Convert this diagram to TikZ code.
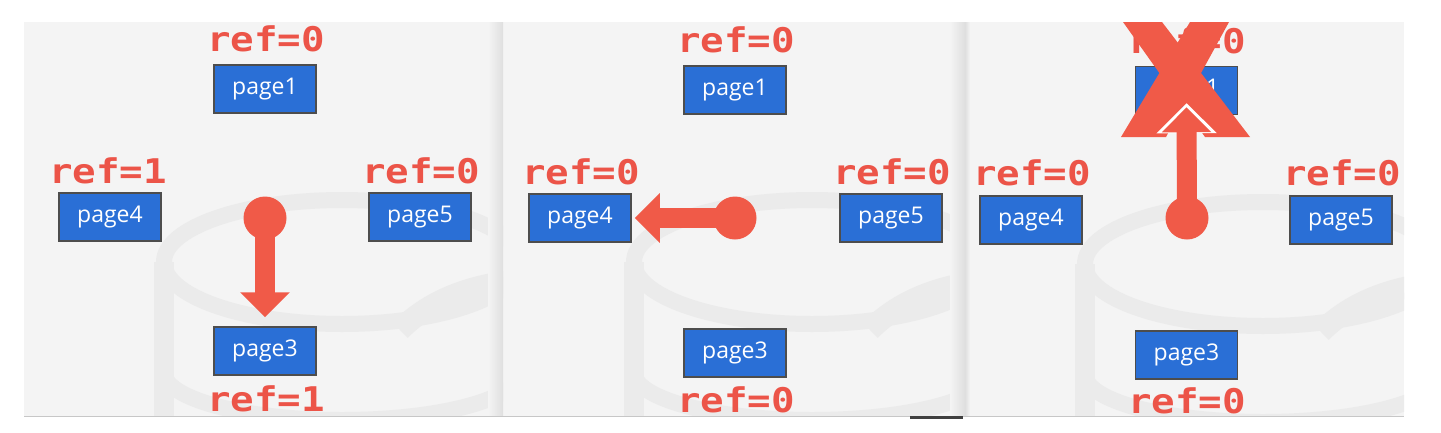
\documentclass[tikz,border=0pt]{standalone}
\usepackage{fontspec}
\setmainfont{Open Sans}
\newfontfamily\reffont{DejaVu Sans Mono}[FakeStretch=1.15]
\usetikzlibrary{arrows.meta}
\definecolor{refred}{HTML}{EC5448}
\definecolor{arrred}{HTML}{F05A48}
\definecolor{pageblue}{HTML}{2A6FD6}
\definecolor{pageedge}{HTML}{4D4D4D}
\definecolor{panelbg}{HTML}{F4F4F4}
\definecolor{wmgray}{HTML}{EBEBEB}
\definecolor{edgegray}{HTML}{DFDFDF}
\tikzset{
  pagebox/.style={draw=pageedge, line width=1.5pt, fill=pageblue, text=white,
    minimum width=102pt, minimum height=48pt, inner sep=0pt,
    font=\fontsize{23}{23}\selectfont},
  reflabel/.style={text=refred, anchor=base, inner sep=0pt,
    font=\reffont\bfseries\fontsize{34}{34}\selectfont},
  dotnode/.style={circle, fill=arrred, minimum size=43pt, inner sep=0pt},
  ptr/.style={arrred, line width=20pt, -{Triangle[width=48pt,length=25pt]}},
  halo/.style={white, line width=2pt, -{Triangle[width=60pt,length=30pt]}},
  wm/.style={wmgray, line width=16pt},
  panel/.style={fill=panelbg},
  crossx/.style={fill=arrred}
}
\newcommand{\wmark}{%
  \draw[wm] (342,262) ellipse [x radius=178, y radius=62];
  \draw[wm, line width=20pt] (164,262) -- (164,430);
  \draw[wm] (164,372) arc[start angle=180, end angle=0, x radius=178, y radius=48];
  \draw[wm, line width=22pt] (400,330) .. controls (430,300) and (470,285) .. (520,280);
}
\begin{document}
\begin{tikzpicture}[x=1pt, y=-1pt]
\useasboundingbox (0,0) rectangle (1441,432);
\fill[white] (0,0) rectangle (1441,432);
% panels
\fill[panel] (24,22) rectangle (503,416);
\fill[panel] (503,22) rectangle (965,416);
\fill[panel] (965,22) rectangle (1404,416);
% watermarks
\begin{scope}
  \clip (24,22) rectangle (503,416);
  \wmark
\end{scope}
\begin{scope}
  \clip (503,22) rectangle (965,416);
  \begin{scope}[xshift=470pt]\wmark\end{scope}
\end{scope}
\begin{scope}
  \clip (965,22) rectangle (1404,416);
  \begin{scope}[xshift=921pt, yshift=-2pt]\wmark\end{scope}
\end{scope}
% panel edge shading
\shade[left color=panelbg, right color=edgegray] (488,22) rectangle (503,416);
\shade[left color=panelbg, right color=edgegray] (950,22) rectangle (965,416);
\shade[left color=edgegray, right color=panelbg] (965,22) rectangle (970,416);
\draw[black!22, line width=1pt] (24,416.5) -- (1404,416.5);
\fill[black!75] (910,416) rectangle (963,418.5);

% ---------- panel 1 ----------
\node[reflabel] (r1a) at (266,51) {ref=0};
\node[pagebox] (p1a) at (265,89) {page1};
\node[reflabel] (r4a) at (108,183) {ref=1};
\node[pagebox] (p4a) at (110,217) {page4};
\node[reflabel] (r5a) at (421,183) {ref=0};
\node[pagebox] (p5a) at (420,217) {page5};
\node[pagebox] (p3a) at (265,351) {page3};
\node[reflabel] (r3a) at (266,411) {ref=1};
\coordinate (ca) at (265,218);
\draw[ptr] (ca) -- ([yshift=9pt]p3a.north);
\node[dotnode] (da) at (ca) {};

% ---------- panel 2 ----------
\node[reflabel] (r1b) at (736,52) {ref=0};
\node[pagebox] (p1b) at (735,90) {page1};
\node[reflabel] (r4b) at (581,184) {ref=0};
\node[pagebox] (p4b) at (580,218) {page4};
\node[reflabel] (r5b) at (892,184) {ref=0};
\node[pagebox] (p5b) at (891,218) {page5};
\node[pagebox] (p3b) at (735,353) {page3};
\node[reflabel] (r3b) at (736,412) {ref=0};
\coordinate (cb) at (735,218);
\draw[ptr] (cb) -- ([xshift=3pt]p4b.east);
\node[dotnode] (db) at (cb) {};

% ---------- panel 3 ----------
\node[reflabel] (r1c) at (1187,53) {ref=0};
\node[pagebox] (p1c) at (1186.5,90.5) {page1};
\node[reflabel] (r4c) at (1032,185) {ref=0};
\node[pagebox] (p4c) at (1031,220) {page4};
\node[reflabel] (r5c) at (1342,185) {ref=0};
\node[pagebox] (p5c) at (1341,220) {page5};
\node[pagebox] (p3c) at (1186.5,355) {page3};
\node[reflabel] (r3c) at (1187,413) {ref=0};
% the big X
\fill[crossx] (1123,22) -- (1162,22) -- (1250,137) -- (1205,137) -- cycle;
\fill[crossx] (1190,22) -- (1229,22) -- (1166,137) -- (1121,137) -- cycle;
\coordinate (cc) at (1187,218);
\draw[halo] (cc) -- ([yshift=12pt]p1c.south);
\draw[ptr] (cc) -- ([yshift=8pt]p1c.south);
\node[dotnode] (dc) at (cc) {};
\end{tikzpicture}
\end{document}
